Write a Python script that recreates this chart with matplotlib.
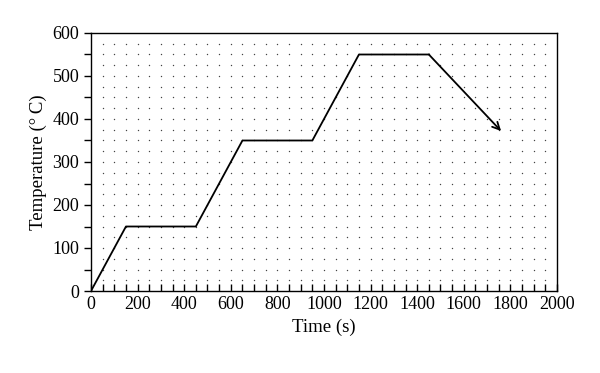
import numpy as np
import matplotlib
matplotlib.use("Agg")
import matplotlib.pyplot as plt
from matplotlib.ticker import MultipleLocator

time_s = [0, 150, 450, 650, 950, 1150, 1450, 1760]
temp_c = [0, 150, 150, 350, 350, 550, 550, 372]

plt.rcParams['font.family'] = ['Liberation Serif', 'DejaVu Serif']
fig = plt.figure(figsize=(6, 3.73), dpi=100)
ax = fig.add_axes([91/600, 1-291/373, (557-91)/600, (291-33)/373])

gx, gy = np.meshgrid(np.arange(50, 2000, 50), np.arange(25, 600, 25))
ax.scatter(gx.ravel(), gy.ravel(), s=1.0, c='#444444', linewidths=0, zorder=1)

ax.plot(time_s[:-1], temp_c[:-1], color='black', lw=1.3, zorder=3)
ax.annotate('', xy=(time_s[-1], temp_c[-1]), xytext=(time_s[-2], temp_c[-2]),
            arrowprops=dict(arrowstyle='->', color='black', lw=1.3,
                            shrinkA=0, shrinkB=0, mutation_scale=13), zorder=3)

ax.set_xlim(0, 2000)
ax.set_ylim(0, 600)
ax.xaxis.set_major_locator(MultipleLocator(200))
ax.xaxis.set_minor_locator(MultipleLocator(50))
ax.yaxis.set_major_locator(MultipleLocator(100))
ax.yaxis.set_minor_locator(MultipleLocator(50))
ax.tick_params(axis='x', which='both', direction='in', labelsize=13)
ax.tick_params(axis='y', which='both', direction='out', labelsize=13)
ax.tick_params(which='major', length=5, width=1)
ax.tick_params(which='minor', length=5, width=1)
for s in ax.spines.values():
    s.set_linewidth(1)
ax.set_xlabel('Time (s)', fontsize=13.5)
ax.set_ylabel('Temperature (°\u2009C)', fontsize=13.5)

fig.savefig('out.png', dpi=100)
